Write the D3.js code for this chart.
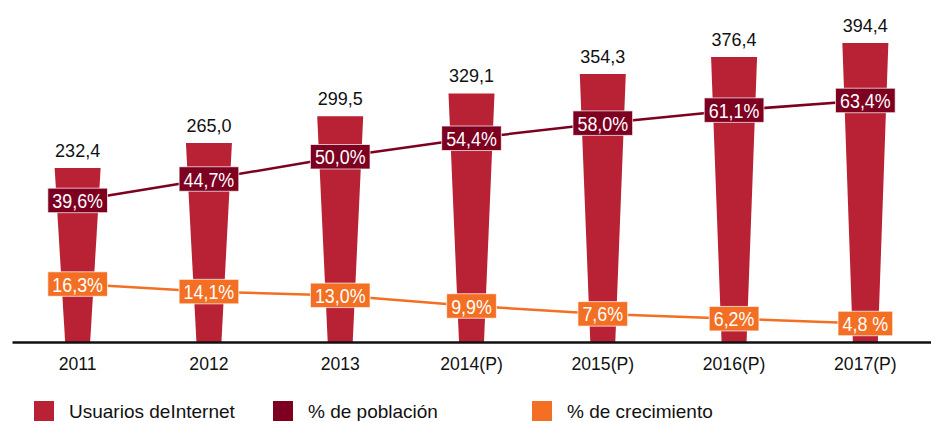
<!DOCTYPE html>
<html>
<head>
<meta charset="utf-8">
<script src="https://cdn.jsdelivr.net/npm/d3@7"></script>
<style>
  body { margin: 0; background: #fff; }
  svg { display: block; font-family: "Liberation Sans", Arial, Helvetica, sans-serif; }
</style>
</head>
<body>
<svg id="drawing_region"></svg>
<script>
// data
const years = ["2011", "2012", "2013", "2014(P)", "2015(P)", "2016(P)", "2017(P)"];
const usuarios = [232.4, 265.0, 299.5, 329.1, 354.3, 376.4, 394.4];
const poblacion = [39.6, 44.7, 50.0, 54.4, 58.0, 61.1, 63.4];
const crecimiento = [16.3, 14.1, 13.0, 9.9, 7.6, 6.2, 4.8];
const usuariosLabels = ["232,4", "265,0", "299,5", "329,1", "354,3", "376,4", "394,4"];
const poblacionLabels = ["39,6%", "44,7%", "50,0%", "54,4%", "58,0%", "61,1%", "63,4%"];
const crecimientoLabels = ["16,3%", "14,1%", "13,0%", "9,9%", "7,6%", "6,2%", "4,8 %"];
const legendNames = ["Usuarios deInternet", "% de población", "% de crecimiento"];

const colors = {
    bar: '#b92235',
    pob: '#7d0021',
    crec: '#f26f23'
};

const width = 931, height = 421;
const baseY = 342;

const svg = d3.select('#drawing_region')
    .attr('width', width)
    .attr('height', height);

const x = d3.scaleBand()
    .domain(years)
    .range([12, 931]);

const yBar = d3.scaleLinear()
    .domain([7, 400])
    .range([baseY, baseY - 0.7716 * 393]);

const yPob = d3.scaleLinear()
    .domain([40, 60])
    .range([198.8, 114.8]);

const yCrec = d3.scaleLinear()
    .domain([0, 20])
    .range([340, 271.4]);

const cx = i => x(years[i]) + x.bandwidth() / 2;
const topW = 46, botW = 25;

// tapered bars
svg.append('g').selectAll('path')
    .data(usuarios)
    .join('path')
    .attr('fill', colors.bar)
    .attr('d', (d, i) => {
        const c = cx(i), t = yBar(d);
        return `M${c - topW / 2},${t}L${c + topW / 2},${t}L${c + botW / 2},${baseY}L${c - botW / 2},${baseY}Z`;
    });

// value labels above bars
svg.append('g').selectAll('text')
    .data(usuarios)
    .join('text')
    .attr('x', (d, i) => cx(i))
    .attr('y', d => yBar(d) - 11)
    .attr('text-anchor', 'middle')
    .attr('font-size', 18)
    .attr('fill', '#111')
    .text((d, i) => usuariosLabels[i]);

// axis
const axis = svg.append('g')
    .attr('transform', `translate(0,${baseY})`)
    .call(d3.axisBottom(x).tickSize(0).tickPadding(15.5));
axis.select('.domain').attr('stroke', '#111').attr('stroke-width', 2.5);
axis.selectAll('text')
    .attr('font-size', 17.6)
    .attr('fill', '#111')
    .style('font-family', '"Liberation Sans", Arial, Helvetica, sans-serif');

// the label font in the picture is taller and narrower than Arial
const squeeze = 0.86;

function drawSeries(values, labels, yScale, color) {
    const line = d3.line()
        .x((d, i) => cx(i))
        .y(d => yScale(d));

    svg.append('path')
        .datum(values)
        .attr('fill', 'none')
        .attr('stroke', color)
        .attr('stroke-width', 2.5)
        .attr('d', line);

    const g = svg.append('g').selectAll('g')
        .data(values)
        .join('g')
        .attr('transform', (d, i) => `translate(${cx(i)},${yScale(d)})`);

    const rects = g.append('rect')
        .attr('fill', color)
        .attr('stroke', 'rgba(255,255,255,0.7)')
        .attr('stroke-width', 1);

    const texts = g.append('text')
        .attr('text-anchor', 'middle')
        .attr('y', 7.5)
        .attr('transform', `scale(${squeeze},1)`)
        .attr('font-size', 20.8)
        .attr('fill', '#fff')
        .text((d, i) => labels[i]);

    texts.each(function(d, i) {
        const w = this.getComputedTextLength() * squeeze + 9;
        d3.select(rects.nodes()[i])
            .attr('x', -w / 2)
            .attr('y', -12.3)
            .attr('width', w)
            .attr('height', 24.5);
    });
}

drawSeries(poblacion, poblacionLabels, yPob, colors.pob);
drawSeries(crecimiento, crecimientoLabels, yCrec, colors.crec);

// legend
const legendX = [34, 273, 532];
const legendColors = [colors.bar, colors.pob, colors.crec];
const legend = svg.append('g').selectAll('g')
    .data(legendNames)
    .join('g')
    .attr('transform', (d, i) => `translate(${legendX[i]},401)`);

legend.append('rect')
    .attr('width', 20)
    .attr('height', 20)
    .attr('fill', (d, i) => legendColors[i]);

legend.append('text')
    .attr('x', 35)
    .attr('y', 17.3)
    .attr('font-size', 19)
    .attr('fill', '#111')
    .text(d => d);
</script>
</body>
</html>
